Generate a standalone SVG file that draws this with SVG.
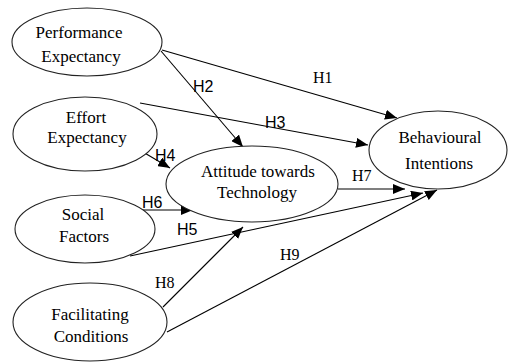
<svg xmlns="http://www.w3.org/2000/svg" width="509" height="362" viewBox="0 0 509 362">
<defs>
<marker id="arr" markerUnits="userSpaceOnUse" markerWidth="13" markerHeight="10" refX="12" refY="5" orient="auto">
<path d="M0,0 L12,5 L0,10 z" fill="#000"/>
</marker>
<style>
.node ellipse{fill:#fff;stroke:#222;stroke-width:1.1}
.node text{font-family:"Liberation Serif","Times New Roman",serif;font-size:17px;fill:#000;text-anchor:middle}
.edges line{stroke:#000;stroke-width:1.1;marker-end:url(#arr)}
.lbl{font-size:16px;fill:#000}
.sans{font-family:"Liberation Sans",Arial,sans-serif}
.serif{font-family:"Liberation Serif","Times New Roman",serif}
</style>
</defs>
<rect width="509" height="362" fill="#fff"/>
<g class="edges">
<line x1="162" y1="50" x2="397" y2="118"/>
<line x1="161" y1="51" x2="243" y2="147"/>
<line x1="140" y1="103" x2="368" y2="145"/>
<line x1="143" y1="152" x2="170" y2="168"/>
<line x1="143" y1="210" x2="193" y2="210"/>
<line x1="130" y1="256" x2="423" y2="193"/>
<line x1="338" y1="189" x2="405" y2="189"/>
<line x1="163" y1="307" x2="243" y2="227"/>
<line x1="167" y1="332" x2="437" y2="190"/>
</g>
<g class="node" id="pe">
<ellipse cx="87" cy="42" rx="75" ry="34"/>
<text x="79" y="38">Performance</text>
<text x="81" y="62">Expectancy</text>
</g>
<g class="node" id="ee">
<ellipse cx="85" cy="134" rx="72" ry="37"/>
<text x="86" y="123">Effort</text>
<text x="87" y="143">Expectancy</text>
</g>
<g class="node" id="att">
<ellipse cx="252" cy="184" rx="86" ry="38"/>
<text x="258" y="177">Attitude towards</text>
<text x="257" y="198">Technology</text>
</g>
<g class="node" id="bi">
<ellipse cx="438" cy="150" rx="69" ry="39"/>
<text x="440" y="143">Behavioural</text>
<text x="439" y="169">Intentions</text>
</g>
<g class="node" id="sf">
<ellipse cx="85" cy="229" rx="70" ry="34"/>
<text x="83" y="220">Social</text>
<text x="84" y="242">Factors</text>
</g>
<g class="node" id="fc">
<ellipse cx="90" cy="322" rx="77" ry="39"/>
<text x="90" y="320">Facilitating</text>
<text x="91" y="342">Conditions</text>
</g>
<g id="labels">
<text class="lbl serif" x="313" y="83">H1</text>
<text class="lbl sans" x="193" y="92">H2</text>
<text class="lbl sans" x="265" y="128">H3</text>
<text class="lbl sans" x="155" y="161">H4</text>
<text class="lbl sans" x="177" y="235">H5</text>
<text class="lbl sans" x="142" y="208">H6</text>
<text class="lbl serif" x="352" y="181">H7</text>
<text class="lbl serif" x="155" y="288">H8</text>
<text class="lbl serif" x="280" y="260">H9</text>
</g>
</svg>
